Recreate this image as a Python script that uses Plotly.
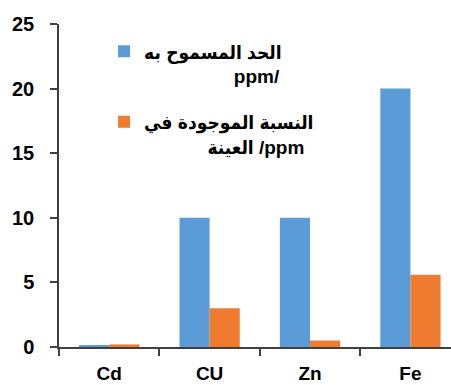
import plotly.graph_objects as go

categories = ["Cd", "CU", "Zn", "Fe"]
allowed_limit = [0.1, 10, 10, 20]
sample_ratio = [0.2, 3, 0.5, 5.6]
series_names = ["الحد المسموح به<br>\u00a0\u00a0\u00a0\u00a0\u00a0\u00a0\u00a0\u00a0\u00a0\u00a0\u00a0\u00a0\u00a0\u00a0\u00a0\u00a0\u00a0ppm/",
                "النسبة الموجودة في<br>\u00a0\u00a0\u00a0\u00a0\u00a0\u00a0\u00a0\u00a0\u00a0\u00a0\u00a0\u00a0العينة /ppm"]
y_ticks = [0, 5, 10, 15, 20, 25]

FONT = "Liberation Sans, Arial, DejaVu Sans, sans-serif"
LEG_FONT = "Liberation Sans, DejaVu Sans Condensed, DejaVu Sans, sans-serif"

fig = go.Figure()
fig.add_trace(go.Bar(x=categories, y=allowed_limit, name=series_names[0], legendgroup="a",
                     marker=dict(color="#5B9BD8", line=dict(width=0))))
fig.add_trace(go.Bar(x=categories, y=sample_ratio, name=series_names[1], legendgroup="b",
                     marker=dict(color="#EE7B30", line=dict(width=0))))

fig.update_layout(
    width=451, height=385,
    margin=dict(l=59, r=0, t=24, b=38, autoexpand=False),
    paper_bgcolor="white", plot_bgcolor="white",
    barmode="group", bargap=0.4, bargroupgap=0,
    font=dict(family=FONT, size=19, color="black", weight="bold"),
    showlegend=True,
    legend=dict(x=0.115, y=0.974, xanchor="left", yanchor="top",
                bgcolor="rgba(0,0,0,0)", valign="top",
                font=dict(family=LEG_FONT, size=19, color="black", weight="bold"),
                tracegroupgap=18, traceorder="grouped"),
    xaxis=dict(range=[-0.5, 3.404], showline=True, linecolor="#404040", linewidth=1.5,
               ticks="outside", ticklen=7, tickcolor="#404040", tickwidth=1.5,
               tickson="boundaries", showgrid=False, zeroline=False, ticklabelstandoff=8,
               automargin=False,
               tickfont=dict(family=FONT, size=19, weight="bold")),
    yaxis=dict(range=[0, 25], tickvals=y_ticks, showline=True, linecolor="#404040",
               linewidth=1.5, ticks="outside", ticklen=7, tickcolor="#404040",
               tickwidth=1.5, showgrid=False, zeroline=False, ticklabelstandoff=12,
               automargin=False,
               tickfont=dict(family=FONT, size=20, weight="bold")),
)

fig.write_html("out.html")
